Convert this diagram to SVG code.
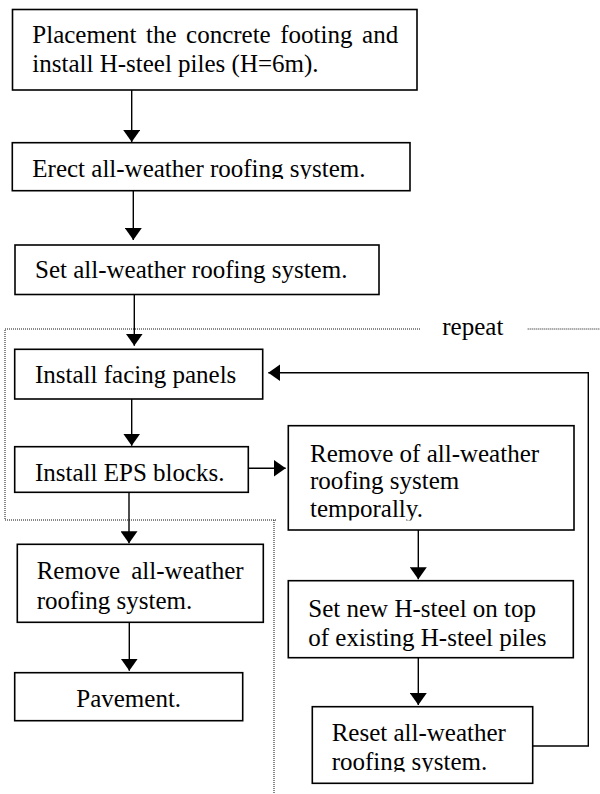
<svg xmlns="http://www.w3.org/2000/svg" width="600" height="794" viewBox="0 0 600 794">
<style>
.box{fill:#fff;stroke:#000;stroke-width:1.6}
.t{font-family:"Liberation Serif","Times New Roman",serif;font-size:25px;fill:#000}
.ln{fill:none;stroke:#000;stroke-width:1.4}
.dot{fill:none;stroke:#111;stroke-width:1;stroke-dasharray:1 1}
</style>
<defs>
<marker id="ah" markerUnits="userSpaceOnUse" viewBox="0 0 12 17" refX="12" refY="8.5" markerWidth="12" markerHeight="17" orient="auto">
<path d="M0,0 L12,8.5 L0,17 z" fill="#000"/>
</marker>
<clipPath id="c2"><rect x="12" y="142" width="400" height="37"/></clipPath>
<clipPath id="c6"><rect x="288" y="425" width="287" height="95.5"/></clipPath>
<clipPath id="c10"><rect x="312" y="706" width="222" height="65.8"/></clipPath>
</defs>
<rect width="600" height="794" fill="#fff"/>
<g id="repeat-frame">
<path class="dot" d="M420,329 H5 V520 H276 M274,520 V794 M527.7,329 H600"/>
<text class="t" x="442.3" y="335">repeat</text>
</g>
<g id="connectors">
<line class="ln" x1="131.7" y1="90" x2="131.7" y2="142" marker-end="url(#ah)"/>
<line class="ln" x1="133.3" y1="190.7" x2="133.3" y2="240" marker-end="url(#ah)"/>
<line class="ln" x1="134.3" y1="294.5" x2="134.3" y2="345.7" marker-end="url(#ah)"/>
<line class="ln" x1="131.7" y1="399" x2="131.7" y2="445.7" marker-end="url(#ah)"/>
<line class="ln" x1="129" y1="492.3" x2="129" y2="543.3" marker-end="url(#ah)"/>
<line class="ln" x1="129.3" y1="622.3" x2="129.3" y2="670.7" marker-end="url(#ah)"/>
<line class="ln" x1="248.3" y1="468.3" x2="285.7" y2="468.3" marker-end="url(#ah)"/>
<line class="ln" x1="418.3" y1="530" x2="418.3" y2="579.3" marker-end="url(#ah)"/>
<line class="ln" x1="418.3" y1="657.7" x2="418.3" y2="705" marker-end="url(#ah)"/>
<polyline class="ln" points="532.7,746 588.3,746 588.3,372.7 268.3,372.7" marker-end="url(#ah)"/>
</g>
<g id="n1">
<rect class="box" x="12.5" y="9.5" width="404.5" height="80.5"/>
<text class="t" x="32.3" y="43.3" word-spacing="3.3">Placement the concrete footing and</text>
<text class="t" x="32.3" y="72.3">install H-steel piles (H=6m).</text>
</g>
<g id="n2">
<rect class="box" x="12.3" y="142.7" width="397.7" height="48"/>
<text class="t" x="32.3" y="176.7" clip-path="url(#c2)">Erect all-weather roofing system.</text>
</g>
<g id="n3">
<rect class="box" x="15" y="245" width="364" height="49.5"/>
<text class="t" x="35" y="278.3">Set all-weather roofing system.</text>
</g>
<g id="n4">
<rect class="box" x="14.7" y="349.3" width="248" height="49.7"/>
<text class="t" x="35" y="383.3">Install facing panels</text>
</g>
<g id="n5">
<rect class="box" x="14.7" y="446.7" width="233.6" height="45.6"/>
<text class="t" x="35" y="481">Install EPS blocks.</text>
</g>
<g id="n6">
<rect class="box" x="288.3" y="425.7" width="285.7" height="104.3"/>
<g clip-path="url(#c6)">
<text class="t" x="310" y="461.7">Remove of all-weather</text>
<text class="t" x="310" y="489.3">roofing system</text>
<text class="t" x="310" y="516.7">temporally.</text>
</g>
</g>
<g id="n7">
<rect class="box" x="17.3" y="544.3" width="246" height="78"/>
<text class="t" x="36.7" y="579.3" word-spacing="5">Remove all-weather</text>
<text class="t" x="36.7" y="609.3">roofing system.</text>
</g>
<g id="n8">
<rect class="box" x="14.7" y="672.7" width="228" height="48"/>
<text class="t" x="128.7" y="706.7" text-anchor="middle">Pavement.</text>
</g>
<g id="n9">
<rect class="box" x="288.3" y="580.7" width="285" height="77"/>
<text class="t" x="308.3" y="616.7">Set new H-steel on top</text>
<text class="t" x="308.3" y="645.7">of existing H-steel piles</text>
</g>
<g id="n10">
<rect class="box" x="312.3" y="706.7" width="220.4" height="76.6"/>
<g clip-path="url(#c10)">
<text class="t" x="331.7" y="741">Reset all-weather</text>
<text class="t" x="331.7" y="770">roofing system.</text>
</g>
</g>
</svg>
